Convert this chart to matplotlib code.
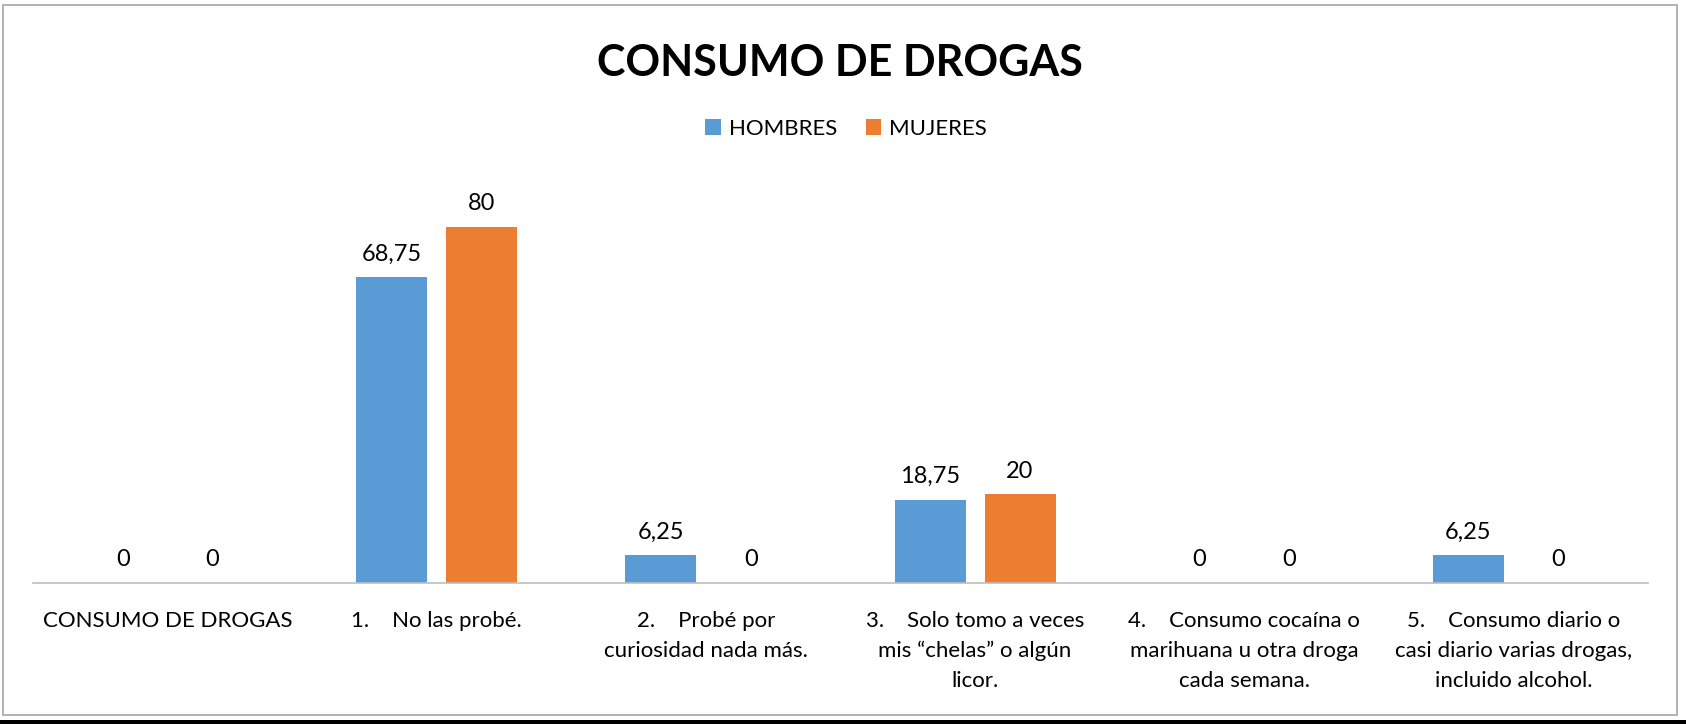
import numpy as np
from matplotlib import pyplot as plt
from matplotlib.patches import Rectangle

#Data ----------------------------------------------------------#
categorias = [
    "CONSUMO DE DROGAS",
    "1.    No las probé.",
    "2.    Probé por\ncuriosidad nada más.",
    "3.    Solo tomo a veces\nmis “chelas” o algún\nlicor.",
    "4.    Consumo cocaína o\nmarihuana u otra droga\ncada semana.",
    "5.    Consumo diario o\ncasi diario varias drogas,\nincluido alcohol.",
]
hombres = [0, 68.75, 6.25, 18.75, 0, 6.25]
mujeres = [0, 80, 0, 20, 0, 0]
series = ["HOMBRES", "MUJERES"]

#Style ---------------------------------------------------------#
plt.rcParams['font.family'] = ['Lato', 'DejaVu Sans']
AZUL = "#5B9BD5"
NARANJA = "#ED7D31"

W, H = 1686, 724
fig = plt.figure(figsize=(W/100, H/100), dpi=100)

#outer frame + black band at the bottom
fig.patches.append(Rectangle((3/W, (H-715)/H), (1677-3)/W, (715-5)/H,
                             transform=fig.transFigure, fill=False,
                             edgecolor="#A6A6A6", lw=1.2))
fig.patches.append(Rectangle((0, 0), 1, 4/H, transform=fig.transFigure,
                             facecolor="black", edgecolor="none"))

ax = fig.add_axes([33/W, (H-583)/H, (1648-33)/W, 400.5/H])

x = np.arange(len(categorias))
ancho = 0.264
desp = 0.167
b1 = ax.bar(x - desp, hombres, ancho, color=AZUL, label=series[0])
b2 = ax.bar(x + desp, mujeres, ancho, color=NARANJA, label=series[1])

fmt = lambda v: f"{v:g}".replace(".", ",")
for b in (b1, b2):
    ax.bar_label(b, labels=[fmt(v) for v in b.datavalues], padding=9,
                 fontsize=17, color="black")

ax.set_xlim(-0.5, len(categorias) - 0.5)
ax.set_ylim(0, 90)
ax.set_yticks([])
ax.set_xticks(x)
ax.set_xticklabels(categorias, fontsize=16, linespacing=1.62)
ax.tick_params(axis="x", length=0, pad=20)
for s in ["top", "right", "left"]:
    ax.spines[s].set_visible(False)
ax.spines["bottom"].set_color("#BFBFBF")
ax.spines["bottom"].set_linewidth(1.2)

#title + legend
fig.text(840/W, (H-76)/H, "CONSUMO DE DROGAS", ha="center", va="baseline",
         fontsize=31, fontweight="bold")
fig.legend(loc="center", bbox_to_anchor=(846/W, (H-129)/H), ncol=2,
           frameon=False, fontsize=16, handlelength=0.7, handleheight=0.7,
           handletextpad=0.35, columnspacing=1.3)

fig.savefig("out.png", dpi=100)
